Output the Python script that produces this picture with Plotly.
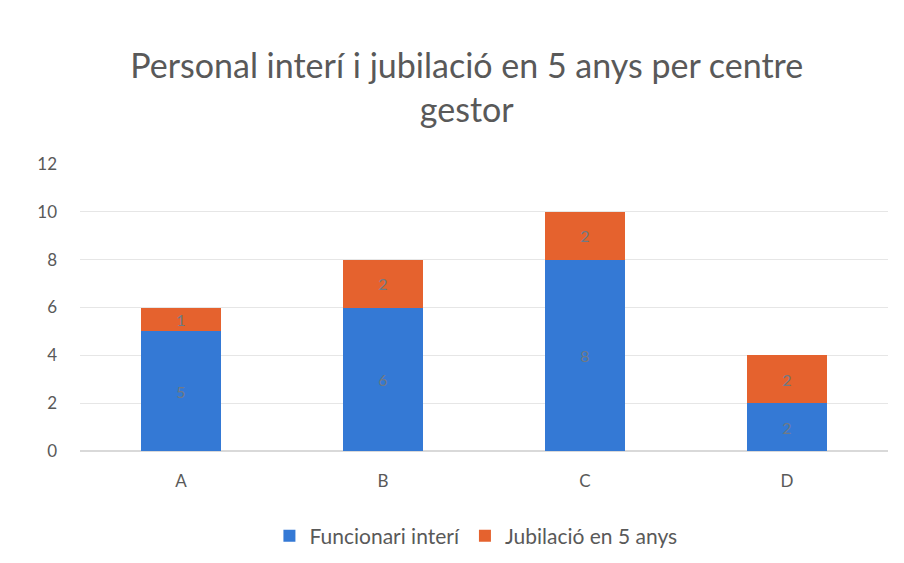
import plotly.graph_objects as go

categories = ["A", "B", "C", "D"]
funcionari = [5, 6, 8, 2]
jubilacio = [1, 2, 2, 2]
tick_vals = [0, 2, 4, 6, 8, 10, 12]

font_fam = "Lato, 'Open Sans', sans-serif"
label_font = dict(color="#707a85", size=16, family=font_fam)
fig = go.Figure()
fig.add_trace(go.Bar(
    x=categories, y=funcionari, name="Funcionari interí",
    marker=dict(color="#3479D5", line=dict(width=0)),
    text=funcionari, textposition="inside", insidetextanchor="middle",
    textangle=0, constraintext="none", textfont=label_font,
))
fig.add_trace(go.Bar(
    x=categories, y=jubilacio, name="Jubilació en 5 anys",
    marker=dict(color="#E5622E", line=dict(width=0)),
    text=jubilacio, textposition="inside", insidetextanchor="middle",
    textangle=0, constraintext="none", textfont=label_font,
))
fig.update_layout(
    barmode="stack",
    bargap=0.6,
    width=896, height=555,
    paper_bgcolor="white", plot_bgcolor="white",
    margin=dict(l=72, r=16, t=156, b=112, autoexpand=False),
    title=dict(
        text="Personal interí i jubilació en 5 anys per centre<br>gestor",
        x=0.512, xanchor="center", y=0.874, yanchor="middle",
        font=dict(family=font_fam, size=34, color="#595959"),
    ),
    font=dict(family=font_fam, color="#595959"),
    xaxis=dict(showgrid=False, showline=False, ticks="", ticklabelstandoff=18,
               tickfont=dict(size=17, color="#595959")),
    yaxis=dict(range=[0, 12], tickvals=tick_vals, showgrid=True,
               gridcolor="#e6e6e6", gridwidth=1, zeroline=True,
               zerolinecolor="#d9d9d9", ticks="", ticklabelstandoff=22,
               tickfont=dict(size=17, color="#595959")),
    legend=dict(orientation="h", x=0.49, xanchor="center", y=-0.225, yanchor="top",
                font=dict(size=21, color="#595959"), traceorder="normal",
                itemwidth=30),
)
fig.write_html("out.html")
